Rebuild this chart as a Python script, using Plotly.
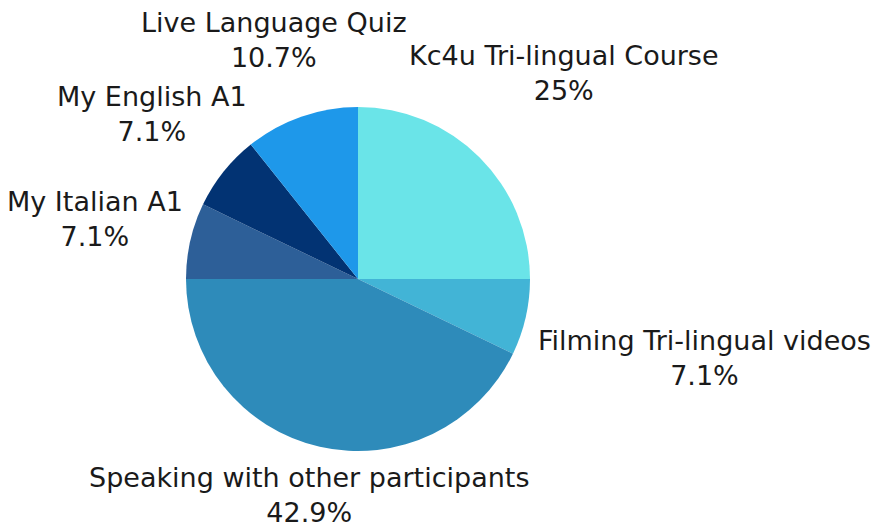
import math
import plotly.graph_objects as go

categories = [
    "Kc4u Tri-lingual Course",
    "Filming Tri-lingual videos",
    "Speaking with other participants",
    "My Italian A1",
    "My English A1",
    "Live Language Quiz",
]
counts = [7, 2, 12, 2, 2, 3]
colors = ["#6AE4E8", "#42B4D6", "#2E8BBA", "#2D5F98", "#023373", "#1E98EA"]

# label distance from pie centre (px), a layout/style choice
label_dist = [291, 355, 222, 270, 264, 253]

total = sum(counts)
pct_text = []
for v in counts:
    s = f"{v / total * 100:.1f}"
    if s.endswith(".0"):
        s = s[:-2]
    pct_text.append(s + "%")

W, H = 886, 527
cx, cy, r = 358, 279, 172

fig = go.Figure(
    go.Pie(
        labels=categories,
        values=counts,
        textposition="none",
        sort=False,
        direction="clockwise",
        rotation=0,
        marker=dict(colors=colors, line=dict(width=0)),
        showlegend=False,
        hoverinfo="label+percent",
        domain=dict(x=[(cx - r) / W, (cx + r) / W], y=[(H - cy - r) / H, (H - cy + r) / H]),
    )
)

# labels placed along each slice's mid-angle (clockwise from 12 o'clock)
cum = 0
for lab, pct, v, d in zip(categories, pct_text, counts, label_dist):
    mid = (cum + v / 2) / total * 2 * math.pi
    cum += v
    px = cx + d * math.sin(mid)
    py = cy - d * math.cos(mid)
    fig.add_annotation(
        x=px / W, y=1 - py / H, xref="paper", yref="paper",
        text=f"{lab}<br>{pct}", showarrow=False,
        xanchor="center", yanchor="middle", align="center",
        font=dict(family="DejaVu Sans", size=27, color="#1a1a1a"),
    )

fig.update_layout(
    width=W,
    height=H,
    margin=dict(l=0, r=0, t=0, b=0),
    paper_bgcolor="white",
    plot_bgcolor="white",
)
fig.write_html(
    "out.html",
    config={"displayModeBar": False},
    post_script="document.body.style.margin='0';",
)
